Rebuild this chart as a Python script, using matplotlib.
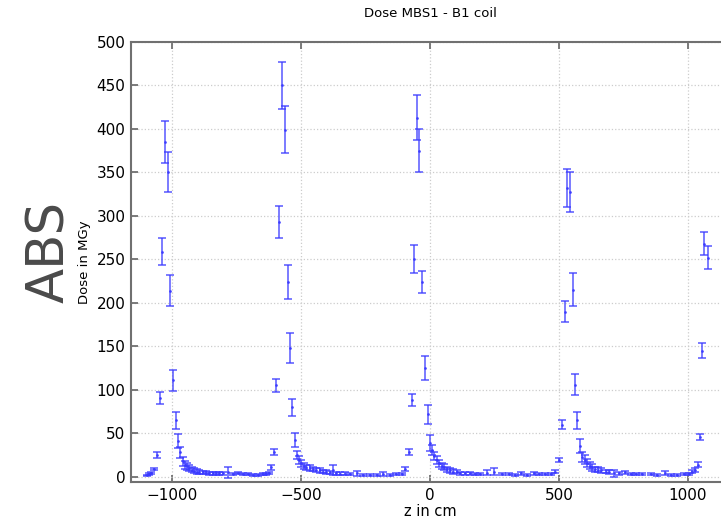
import numpy as np
import matplotlib
matplotlib.use("Agg")
import matplotlib.pyplot as plt

# position along z (cm), dose (MGy) and its error
z = [-1097, -1090, -1083, -1070, -1058, -1049, -1041, -1030, -1018, -1008,
     -996, -986, -976, -969, -960, -951, -943, -934, -925, -914,
     -905, -895, -882, -869, -856, -843, -830, -817, -804, -785,
     -765, -746, -726, -707, -688, -668, -649, -636, -625, -616,
     -606, -597, -584, -573, -564, -551, -545, -536, -524, -516,
     -508, -499, -490, -480, -467, -454, -441, -428, -415, -402,
     -389, -376, -363, -350, -331, -311, -283, -259, -233, -207,
     -182, -156, -130, -110, -97, -80, -70, -63, -52, -42,
     -30, -19, -9, 0, 9, 17, 26, 35, 45, 56,
     65, 78, 91, 104, 117, 136, 156, 175, 195, 221,
     250, 279, 305, 331, 354, 376, 402, 421, 447, 471,
     486, 499, 512, 523, 531, 542, 553, 561, 572, 581,
     590, 600, 610, 619, 629, 639, 652, 665, 681, 696,
     713, 733, 756, 778, 798, 824, 856, 882, 912, 934,
     960, 986, 1005, 1018, 1028, 1038, 1047, 1057, 1064, 1078]

dose = [2, 3, 4, 9, 25, 91, 259, 385, 350, 214,
        111, 65, 41, 28, 17.6, 13.8, 12, 10, 8, 7,
        6, 5.4, 5, 4.6, 4.2, 4.2, 4.2, 4, 3.8, 5,
        3.4, 4.2, 3, 2.7, 2.3, 2.3, 3, 3.4, 4.2, 10.7,
        29, 105, 293, 450, 399, 224, 148, 80, 42, 25,
        19.5, 15.7, 12.6, 10.7, 10, 9, 8, 7.3, 6, 5.4,
        5, 8, 4, 3.6, 3.6, 3.4, 4, 2.3, 2, 2,
        3, 2.3, 2.8, 3.5, 8.8, 28, 88, 250, 413, 375,
        224, 125, 72, 39, 31, 24, 19.5, 15.7, 12.6, 11,
        8.8, 7.3, 6, 6, 4.2, 4.2, 3.8, 3.4, 3.4, 4.6,
        6, 3, 2.7, 2.3, 3.8, 2.3, 3.8, 3, 2.7, 3.4,
        6, 19, 60, 190, 332, 327, 215, 106, 65, 35,
        23, 19.5, 15.7, 12.6, 10.7, 8.8, 8, 7.3, 6, 5.4,
        4.2, 4.2, 5, 3.4, 3, 2.7, 3, 2.3, 4.2, 2.3,
        2, 3, 3.4, 6, 8, 14, 45.6, 145, 268, 252]

err = [0.6, 0.8, 1, 1.5, 3, 7, 16, 24, 23, 18,
       12, 10, 8, 6, 5, 4.5, 4, 3.5, 3, 2.8,
       2.5, 2.2, 2, 1.8, 1.7, 1.6, 1.6, 1.5, 1.5, 6.5,
       1.4, 1.5, 1.2, 1.1, 1, 1, 1.1, 1.2, 1.4, 2.5,
       3.5, 8, 18, 27, 27, 19, 17, 10, 8, 5,
       4.5, 4, 3.5, 3.2, 3, 2.8, 2.6, 2.4, 2.2, 2,
       1.8, 6, 1.6, 1.4, 1.4, 1.3, 3, 1, 0.9, 0.9,
       2, 1, 1, 1.2, 2, 3.5, 7, 16, 26, 25,
       12.5, 14, 11, 9, 6, 5, 4.5, 4, 3.5, 3.2,
       3, 2.6, 2.4, 2.2, 1.8, 1.7, 1.6, 1.4, 1.4, 3,
       4.5, 1.2, 1.1, 1, 1.5, 1, 1.5, 1.2, 1.1, 1.3,
       2, 2.5, 5, 12.5, 22, 23, 19, 12, 10, 8,
       6, 5, 4.5, 4, 3.5, 3, 2.8, 2.5, 2.2, 2,
       4, 1.6, 1.8, 1.3, 1.2, 1.1, 1.2, 1, 2.2, 1,
       0.9, 1.2, 1.3, 1.8, 2, 2.5, 3.5, 8.5, 13.5, 13.5]

xticks = [-1000, -500, 0, 500, 1000]
yticks = [0, 50, 100, 150, 200, 250, 300, 350, 400, 450, 500]

fig = plt.figure(figsize=(7.21, 5.29), dpi=100)
ax = fig.add_axes([131 / 721, 47 / 529, 598 / 721, 440 / 529])

ax.errorbar(z, dose, yerr=err, fmt='.', color='#3a3aff', alpha=0.85,
            markersize=2, elinewidth=1.1, capsize=3, capthick=1.1)

ax.set_xlim(-1160, 1160)
ax.set_ylim(-6, 500)
ax.set_xticks(xticks)
ax.set_yticks(yticks)
ax.grid(True, linestyle=':', color='#cccccc', linewidth=0.9)
ax.set_axisbelow(True)

for s in ax.spines.values():
    s.set_color('#707070')
    s.set_linewidth(1.5)
ax.tick_params(direction='in', top=True, right=True, length=5,
               width=1.3, color='#707070', labelsize=11, pad=4)

ax.set_title("Dose MBS1 - B1 coil", fontsize=9.5, pad=18)
ax.set_xlabel("z in cm", fontsize=10.5, labelpad=1)
ax.set_ylabel("Dose in MGy", fontsize=9.5, labelpad=4)

# big side label
fig.text(50 / 721, 1 - 252 / 529, "ABS", rotation=90, fontsize=37,
         color='#4a4a4a', ha='center', va='center')

plt.savefig("out.png", dpi=100)
